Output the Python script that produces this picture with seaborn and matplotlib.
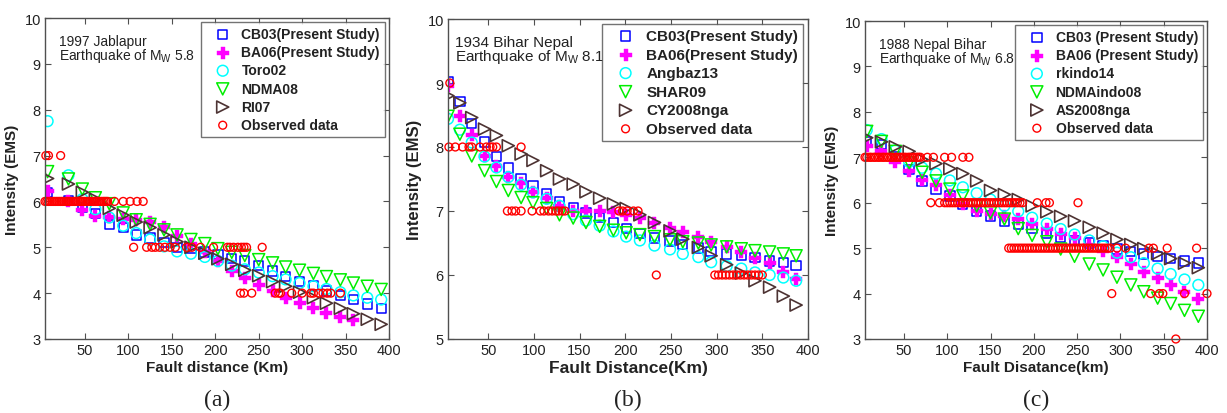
import matplotlib
matplotlib.use("Agg")
import matplotlib.pyplot as plt
import seaborn as sns
import pandas as pd

# ---------------- data: panel (a) 1997 Jablapur ----------------
xa = [7, 31, 47, 62, 78, 94, 109, 125, 141, 156, 172, 188, 203, 219, 234, 250,
      266, 281, 297, 313, 328, 344, 359, 375, 391]
a_cb03 = [6.2, 6.02, 5.87, 5.73, 5.5, 5.43, 5.27, 5.2, 5.1, 5.0, 4.98, 4.9, 4.85,
          4.76, 4.7, 4.6, 4.48, 4.36, 4.26, 4.16, 4.05, 3.95, 3.86, 3.76, 3.66]
a_ba06 = [6.22, 6.02, 5.82, 5.69, 5.66, 5.62, 5.6, 5.55, 5.45, 5.25, 5.08, 4.9,
          4.7, 4.48, 4.33, 4.18, 4.04, 3.89, 3.78, 3.67, 3.57, 3.48, 3.41]
a_toro = [7.75, 6.57, 6.05, 5.83, 5.65, 5.47, 5.31, 5.17, 5.02, 4.91, 4.86, 4.79,
          4.7, 4.6, 4.52, 4.45, 4.37, 4.3, 4.22, 4.15, 4.09, 4.02, 3.95, 3.9, 3.86]
a_ndma = [6.65, 6.49, 6.27, 6.08, 5.95, 5.75, 5.6, 5.5, 5.38, 5.27, 5.17, 5.08,
          4.97, 4.89, 4.82, 4.73, 4.66, 4.57, 4.5, 4.43, 4.36, 4.29, 4.22, 4.15, 4.08]
a_ri07 = [6.5, 6.38, 6.2, 6.05, 5.85, 5.7, 5.55, 5.43, 5.27, 5.12, 5.0, 4.87, 4.75,
          4.63, 4.5, 4.38, 4.25, 4.15, 4.02, 3.9, 3.78, 3.67, 3.55, 3.43, 3.32]
a_obs_x = ([5, 8, 22] +
           [4, 6, 8, 10, 12, 14, 16, 18, 20, 22, 24, 26, 28, 30, 32, 34, 36, 38, 40,
            42, 44, 46, 48, 50, 52, 54, 56, 58, 60, 62, 64, 66, 68, 70, 72, 74, 76,
            84, 94, 102, 110, 117] +
           [106, 121, 127, 131, 136, 142, 148, 154, 167, 173, 183, 198, 214, 217,
            221, 226, 230, 233, 236, 254] +
           [229, 233, 242, 269, 273, 275, 288, 300, 310, 313, 319, 324, 329, 333, 344])
a_obs_y = ([7] * 3 + [6] * 42 + [5] * 20 + [4] * 15)

# ---------------- data: panel (b) 1934 Bihar Nepal ----------------
xb = [6, 19, 32, 46, 59, 72, 86, 99, 114, 128, 143, 157, 172, 187, 201, 216, 232,
      249, 263, 280, 294, 311, 327, 342, 358, 373, 387]
b_cb03 = [9.02, 8.71, 8.37, 8.08, 7.85, 7.67, 7.51, 7.39, 7.27, 7.15, 7.06, 6.97,
          6.9, 6.82, 6.73, 6.65, 6.58, 6.53, 6.48, 6.42, 6.37, 6.33, 6.3, 6.27,
          6.22, 6.19, 6.15]
b_ba06 = [8.95, 8.49, 8.18, 7.86, 7.7, 7.53, 7.44, 7.29, 7.2, 7.08, 7.0, 7.0, 7.0,
          6.98, 6.93, 6.89, 6.82, 6.74, 6.67, 6.6, 6.52, 6.44, 6.36, 6.27, 6.18,
          6.05, 5.94]
b_ang = [8.44, 8.27, 8.07, 7.85, 7.68, 7.53, 7.41, 7.29, 7.19, 7.08, 6.95, 6.85,
         6.77, 6.68, 6.6, 6.54, 6.46, 6.4, 6.33, 6.28, 6.2, 6.14, 6.1, 6.04, 6.0,
         5.96, 5.91]
b_shar = [8.48, 8.2, 7.86, 7.63, 7.46, 7.32, 7.21, 7.13, 7.04, 6.94, 6.89, 6.82,
          6.76, 6.7, 6.66, 6.63, 6.6, 6.55, 6.52, 6.5, 6.47, 6.44, 6.41, 6.38, 6.36,
          6.33, 6.3]
b_cy = [8.8, 8.69, 8.46, 8.28, 8.18, 8.02, 7.89, 7.79, 7.63, 7.5, 7.42, 7.3, 7.2,
        7.11, 7.04, 6.94, 6.82, 6.69, 6.56, 6.43, 6.3, 6.16, 6.03, 5.91, 5.81, 5.67,
        5.53]
b_obs_x = ([8] +
           [7, 14, 22, 29, 32, 41, 48, 52, 55, 59, 86] +
           [71, 76, 80, 86, 98, 107, 111, 116, 120, 124, 127, 131, 134, 193, 197,
            202, 209, 214] +
           [234, 298, 302, 306, 310, 314, 318, 322, 326, 330, 334, 338, 342, 346, 350])
b_obs_y = ([9] + [8] * 11 + [7] * 18 + [6] * 15)

# ---------------- data: panel (c) 1988 Nepal Bihar ----------------
xc = [7, 24, 40, 56, 71, 87, 103, 118, 134, 150, 166, 182, 198, 215, 231, 247, 264,
      280, 296, 312, 327, 343, 358, 374, 390]
c_cb03 = [7.35, 7.28, 7.02, 6.73, 6.48, 6.3, 6.15, 5.97, 5.82, 5.71, 5.6, 5.53,
          5.43, 5.33, 5.24, 5.17, 5.11, 5.05, 4.98, 4.92, 4.87, 4.82, 4.77, 4.72, 4.67]
c_ba06 = [7.24, 7.13, 6.9, 6.7, 6.5, 6.38, 6.18, 5.97, 5.82, 5.76, 5.71, 5.64, 5.53,
          5.42, 5.31, 5.22, 5.07, 4.94, 4.8, 4.65, 4.47, 4.34, 4.19, 4.04, 3.87]
c_rk = [7.6, 7.4, 7.15, 6.9, 6.77, 6.64, 6.49, 6.34, 6.21, 6.07, 5.93, 5.81, 5.67,
        5.54, 5.42, 5.3, 5.17, 5.04, 4.9, 4.8, 4.67, 4.55, 4.43, 4.31, 4.19]
c_ndma = [7.57, 7.35, 7.13, 6.88, 6.67, 6.48, 6.3, 6.15, 5.93, 5.78, 5.64, 5.43,
          5.28, 5.14, 4.98, 4.82, 4.65, 4.52, 4.36, 4.19, 4.04, 3.9, 3.78, 3.63, 3.5]
c_as = [7.43, 7.34, 7.23, 7.13, 6.95, 6.86, 6.75, 6.64, 6.48, 6.27, 6.18, 6.07, 5.93,
        5.8, 5.7, 5.6, 5.46, 5.33, 5.19, 5.08, 4.99, 4.88, 4.77, 4.67, 4.57]
c_obs_x = ([5, 7, 10, 12, 15, 17, 20, 22, 25, 27, 30, 32, 35, 37, 40, 42, 45, 47, 50,
            52, 55, 57, 60, 62, 65, 67, 69, 77, 84, 97, 105, 118, 125] +
           [81, 91, 97, 100, 103, 106, 109, 112, 115, 118, 121, 124, 127, 130, 133,
            136, 139, 142, 145, 148, 151, 154, 157, 160, 163, 166, 169, 172, 175,
            178, 181, 184, 187, 204, 214, 218, 251] +
           [171, 174, 177, 180, 183, 186, 189, 192, 195, 198, 201, 204, 207, 210,
            213, 216, 219, 222, 225, 228, 231, 234, 237, 240, 243, 246, 249, 252,
            255, 258, 261, 264, 267, 270, 273, 276, 279, 282, 285, 288, 296, 306,
            333, 338, 354, 388] +
           [290, 335, 345, 349, 374, 400] +
           [364])
c_obs_y = ([7] * 33 + [6] * 37 + [5] * 46 + [4] * 6 + [3] * 1)

# labels
a_names = ["CB03(Present Study)", "BA06(Present Study)", "Toro02", "NDMA08", "RI07", "Observed data"]
b_names = ["CB03(Present Study)", "BA06(Present Study)", "Angbaz13", "SHAR09", "CY2008nga", "Observed data"]
c_names = ["CB03 (Present Study)", "BA06 (Present Study)", "rkindo14", "NDMAindo08", "AS2008nga", "Observed data"]
titles = ["1997 Jablapur\nEarthquake of M$_\\mathregular{W}$ 5.8",
          "1934 Bihar Nepal\nEarthquake of M$_\\mathregular{W}$ 8.1",
          "1988 Nepal Bihar\nEarthquake of M$_\\mathregular{W}$ 6.8"]
xlabels = ["Fault distance (Km)", "Fault Distance(Km)", "Fault Disatance(km)"]
panel_tags = ["(a)", "(b)", "(c)"]

# ---------------- style ----------------
sns.set_theme(style="white")
plt.rcParams['font.family'] = ['Liberation Sans', 'DejaVu Sans']
plt.rcParams['mathtext.fontset'] = 'custom'
plt.rcParams['mathtext.rm'] = 'Liberation Sans'

BLUE, MAG, CYAN, GREEN, BROWN, RED = "#0000ff", "#ff00ff", "#00ffff", "#00ee00", "#4d3333", "#ff0000"
TXT = "#222222"
EDGE = "#505050"

fig = plt.figure(figsize=(12.27, 4.14), dpi=100)
W, H = 1227, 414
boxes = [(45, 389, 19, 340), (448, 808, 20, 340), (865, 1207, 22, 340)]
ylims = [(3, 10), (5, 10), (3, 10)]
xmins = [4, 6, 5]
leg_fs = [10, 11, 10]
ann_fs = [10, 11, 10]
ann_x = [0.04, 0.02, 0.041]
xlab_fs = [11, 12.5, 11]
ylab_fs = [11, 12, 11]

panels = [
    (xa, [a_cb03, a_ba06, a_toro, a_ndma, a_ri07], a_obs_x, a_obs_y, a_names),
    (xb, [b_cb03, b_ba06, b_ang, b_shar, b_cy], b_obs_x, b_obs_y, b_names),
    (xc, [c_cb03, c_ba06, c_rk, c_ndma, c_as], c_obs_x, c_obs_y, c_names),
]

styles = [
    dict(marker="s", s=45, facecolor="none", edgecolor=BLUE, linewidth=1.1),
    dict(marker="P", s=70, facecolor=MAG, edgecolor=MAG, linewidth=0.3),
    dict(marker="o", s=60, facecolor="none", edgecolor=CYAN, linewidth=1.1),
    dict(marker="v", s=75, facecolor="none", edgecolor=GREEN, linewidth=1.1),
    dict(marker=">", s=75, facecolor="none", edgecolor=BROWN, linewidth=1.2),
]
obs_style = dict(marker="o", s=32, facecolor="none", edgecolor=RED, linewidth=1.0)

for i, (xs, series, ox, oy, names) in enumerate(panels):
    l, r, t, b = boxes[i]
    ax = fig.add_axes([l / W, 1 - b / H, (r - l) / W, (b - t) / H])
    for j, ys in enumerate(series):
        df = pd.DataFrame({"x": xs[:len(ys)], "y": ys})
        sns.scatterplot(data=df, x="x", y="y", ax=ax, label=names[j], **styles[j])
    dfo = pd.DataFrame({"x": ox, "y": oy})
    sns.scatterplot(data=dfo, x="x", y="y", ax=ax, label=names[5], clip_on=False,
                    **obs_style)

    ax.set_xlim(xmins[i], 400)
    ax.set_ylim(*ylims[i])
    ax.set_xticks([50, 100, 150, 200, 250, 300, 350, 400])
    ax.set_yticks(list(range(ylims[i][0], ylims[i][1] + 1)))
    ax.tick_params(direction="in", bottom=True, left=True, top=True, right=True,
                   length=4, width=0.8, labelsize=10.5, colors=EDGE, labelcolor=TXT, pad=3)
    for sp in ax.spines.values():
        sp.set_color(EDGE)
        sp.set_linewidth(1.0)
    ax.set_xlabel(xlabels[i], fontsize=xlab_fs[i], fontweight="bold", color=TXT, labelpad=2)
    ax.set_ylabel("Intensity (EMS)", fontsize=ylab_fs[i], fontweight="bold", color=TXT, labelpad=4)
    ax.text(ann_x[i], 0.95, titles[i], transform=ax.transAxes, ha="left", va="top",
            fontsize=ann_fs[i], color=TXT, linespacing=0.85)
    leg = ax.legend(loc="upper right", frameon=True, fancybox=False,
                    borderaxespad=0.3, borderpad=0.35, labelspacing=0.3,
                    handletextpad=0.15, handlelength=2.4, scatterpoints=1,
                    prop={"weight": "bold", "size": leg_fs[i]})
    leg.get_frame().set_edgecolor(EDGE)
    leg.get_frame().set_linewidth(1.0)
    for txt in leg.get_texts():
        txt.set_color(TXT)

    cx = (l + r) / 2 / W
    fig.text(cx, 1 - 400 / H, panel_tags[i], ha="center", va="center",
             fontsize=17, family="Liberation Serif", color=TXT)

fig.savefig("out.png", dpi=100, facecolor="white")
